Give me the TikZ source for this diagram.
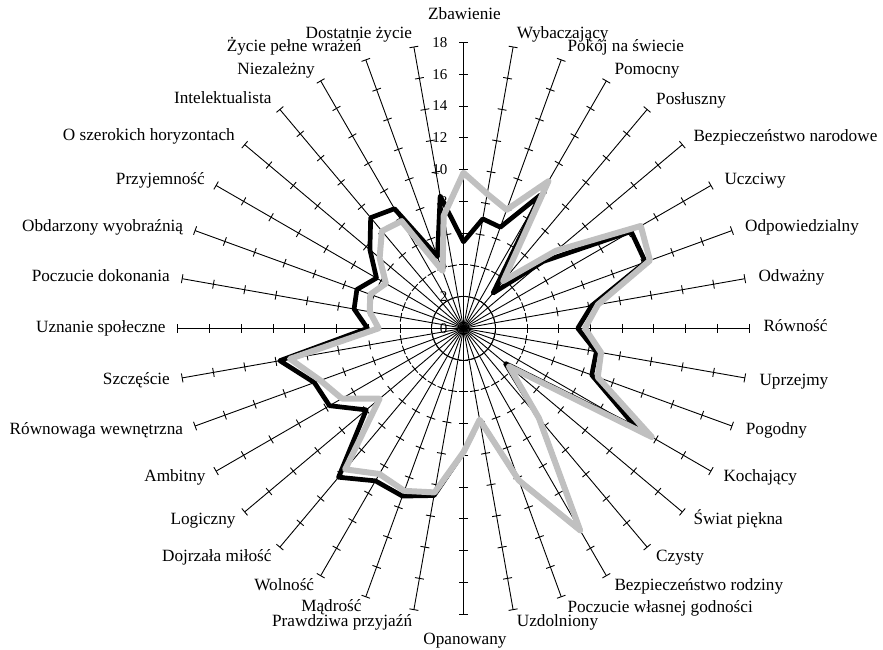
\documentclass[tikz,border=0pt]{standalone}
\usepackage{fontspec}
\setmainfont{Liberation Serif}
\definecolor{sergray}{RGB}{192,192,192}
\begin{document}
\begin{tikzpicture}[x=1pt,y=-1pt,
  axisline/.style={line width=0.9pt, black},
  tickline/.style={line width=0.9pt, black},
  serblack/.style={line width=4.7pt, black, line join=round},
  sergrey/.style={line width=6pt, sergray, line join=round},
  lab/.style={font=\fontsize{17.2}{20}\selectfont, inner sep=0pt},
  labr/.style={lab, anchor=base west},
  labl/.style={lab, anchor=base east},
  num/.style={font=\fontsize{15}{18}\selectfont, inner sep=0pt, anchor=base east}]
\useasboundingbox (0,0) rectangle (883,649);
\def\unitpx{15.87}
\coordinate (C) at (463.5,328.3);
% axes with tick marks
\foreach \k in {0,...,35}{
  \pgfmathsetmacro\sn{sin(10*\k)}
  \pgfmathsetmacro\cs{cos(10*\k)}
  \coordinate (E\k) at ({463.5+18*\unitpx*\sn},{328.3-18*\unitpx*\cs});
  \draw[axisline] (C) -- (E\k);
  \foreach \v in {2,4,...,18}{
    \draw[tickline] ({463.5+\v*\unitpx*\sn-4.5*\cs},{328.3-\v*\unitpx*\cs-4.5*\sn}) -- ({463.5+\v*\unitpx*\sn+4.5*\cs},{328.3-\v*\unitpx*\cs+4.5*\sn});
  }
}
% scale numbers
\foreach \v in {0,2,...,18}{
  \node[num] (N\v) at (447.5,{328.3-\v*\unitpx+4.7}) {\v};
}
% data series
\foreach \v [count=\i from 0] in {5.45,7.0,6.78,9.7,2.9,6.55,12.2,12.2,8.2,7.2,8.5,8.6,12.6,3.45,7.4,14.7,10.2,5.85,7.8,10.7,11.25,11.1,12.25,8.0,9.75,10.0,11.75,6.05,7.0,7.15,6.33,7.7,9.1,8.7,4.8,8.47}{
  \coordinate (B\i) at ({463.5+\v*\unitpx*sin(10*\i)},{328.3-\v*\unitpx*cos(10*\i)});
}
\foreach \v [count=\i from 0] in {9.8,8.6,7.95,10.7,3.9,7.6,12.9,12.5,8.6,7.65,8.8,9.0,13.7,3.75,7.4,14.7,10.2,5.85,7.8,10.5,10.9,10.6,11.6,6.9,8.85,9.6,11.1,5.35,6.0,6.25,5.65,6.9,8.0,7.8,3.85,7.2}{
  \coordinate (G\i) at ({463.5+\v*\unitpx*sin(10*\i)},{328.3-\v*\unitpx*cos(10*\i)});
}
\draw[serblack] (B0) \foreach \i in {1,...,35}{ -- (B\i) } -- cycle;
\draw[sergrey] (G0) \foreach \i in {1,...,35}{ -- (G\i) } -- cycle;
% category labels
\node[lab, anchor=base] (L0) at (464.5,19.5) {Zbawienie};
\node[labr] (L1) at (516.7,38.3) {Wybaczający};
\node[labr] (L2) at (567.3,51.7) {Pokój na świecie};
\node[labr] (L3) at (614.3,74.3) {Pomocny};
\node[labr] (L4) at (656,104) {Posłuszny};
\node[labr] (L5) at (693.3,141.7) {Bezpieczeństwo narodowe};
\node[labr] (L6) at (724.3,184.3) {Uczciwy};
\node[labr] (L7) at (745,231.7) {Odpowiedzialny};
\node[labr] (L8) at (758.3,281) {Odważny};
\node[labr] (L9) at (763.3,331.7) {Równość};
\node[labr] (L10) at (759.3,385) {Uprzejmy};
\node[labr] (L11) at (745.7,434.3) {Pogodny};
\node[labr] (L12) at (723.3,481.7) {Kochający};
\node[labr] (L13) at (693.3,524.3) {Świat piękna};
\node[labr] (L14) at (656,561.7) {Czysty};
\node[labr] (L15) at (614.3,590.7) {Bezpieczeństwo rodziny};
\node[labr] (L16) at (567.3,612.3) {Poczucie własnej godności};
\node[labr] (L17) at (516.7,626.7) {Uzdolniony};
\node[lab, anchor=base] (L18) at (465,644) {Opanowany};
\node[labl] (L19) at (412.3,626.7) {Prawdziwa przyjaźń};
\node[labl] (L20) at (361.7,611.7) {Mądrość};
\node[labl] (L21) at (314.3,590) {Wolność};
\node[labl] (L22) at (271.7,561.7) {Dojrzała miłość};
\node[labl] (L23) at (235.7,524.3) {Logiczny};
\node[labl] (L24) at (205.7,481) {Ambitny};
\node[labl] (L25) at (183.3,434.3) {Równowaga wewnętrzna};
\node[labl] (L26) at (170,384.3) {Szczęście};
\node[labl] (L27) at (165.7,332.3) {Uznanie społeczne};
\node[labl] (L28) at (170,281) {Poczucie dokonania};
\node[labl] (L29) at (183.3,231) {Obdarzony wyobraźnią};
\node[labl] (L30) at (205,184) {Przyjemność};
\node[labl] (L31) at (235,140.7) {O szerokich horyzontach};
\node[labl] (L32) at (271.7,103.3) {Intelektualista};
\node[labl] (L33) at (315,74) {Niezależny};
\node[labl] (L34) at (361.7,51.7) {Życie pełne wrażeń};
\node[labl] (L35) at (412.3,38.3) {Dostatnie życie};
\end{tikzpicture}
\end{document}
